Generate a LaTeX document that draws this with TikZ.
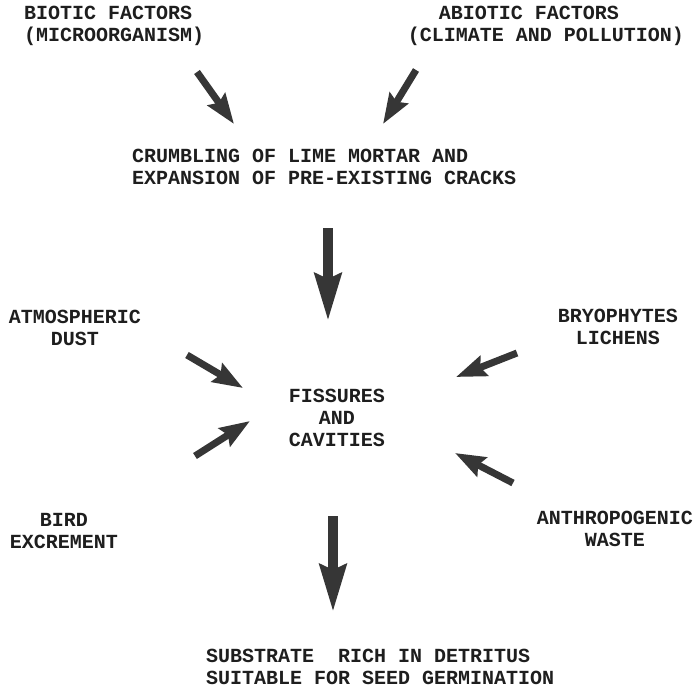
\documentclass[tikz,border=0pt]{standalone}
\usepackage{fontspec}
\setmainfont{Liberation Mono}
\usetikzlibrary{arrows.meta}
\definecolor{arrowgray}{HTML}{363636}
\definecolor{txt}{HTML}{1E1E1E}
\tikzset{
  lbl/.style={font=\bfseries\fontsize{20}{22}\selectfont, text=txt, inner sep=0pt},
  arr/.style={draw=arrowgray, line width=7pt, -{Stealth[length=30pt,width=21pt,inset=4pt,fill=arrowgray]}},
  bigarr/.style={draw=arrowgray, line width=10pt, -{Stealth[length=47pt,width=26pt,inset=5pt,fill=arrowgray]}}
}
\begin{document}
\begin{tikzpicture}[x=1pt,y=-1pt]
\useasboundingbox[fill=white] (0,0) rectangle (697,689);

\node[lbl, align=left, anchor=west] (biotic) at (24,26) {BIOTIC FACTORS\\(MICROORGANISM)};
\node[lbl, align=center] (abiotic) at (546,26) {ABIOTIC FACTORS\hspace*{34pt}\\(CLIMATE AND POLLUTION)};
\node[lbl, align=left, anchor=west] (crumb) at (132,167) {CRUMBLING OF LIME MORTAR AND\\EXPANSION OF PRE-EXISTING CRACKS};
\node[lbl, align=center] (dust) at (75,328) {ATMOSPHERIC\\DUST};
\node[lbl, align=center] (bryo) at (618,327) {BRYOPHYTES\\LICHENS};
\node[lbl, align=center] (fiss) at (337,418) {FISSURES\\AND\\CAVITIES};
\node[lbl, align=center] (bird) at (64,531) {BIRD\\EXCREMENT};
\node[lbl, align=center] (anthro) at (615,529) {ANTHROPOGENIC\\WASTE};
\node[lbl, align=left, anchor=west] (subst) at (206,667) {SUBSTRATE\ \ RICH IN DETRITUS\\SUITABLE FOR SEED GERMINATION};

\coordinate (a1s) at (197,72);  \coordinate (a1e) at (234,124);
\coordinate (a2s) at (416,70);  \coordinate (a2e) at (383,124);
\coordinate (a3s) at (328,228); \coordinate (a3e) at (328,321);
\coordinate (a4s) at (187,355); \coordinate (a4e) at (243,388);
\coordinate (a5s) at (195,456); \coordinate (a5e) at (250,421);
\coordinate (a6s) at (517,353); \coordinate (a6e) at (456,377);
\coordinate (a7s) at (513,483); \coordinate (a7e) at (455,453);
\coordinate (a8s) at (333,516); \coordinate (a8e) at (333,612);

\draw[arr] (a1s) -- (a1e);
\draw[arr] (a2s) -- (a2e);
\draw[bigarr] (a3s) -- (a3e);
\draw[arr] (a4s) -- (a4e);
\draw[arr] (a5s) -- (a5e);
\draw[arr] (a6s) -- (a6e);
\draw[arr] (a7s) -- (a7e);
\draw[bigarr] (a8s) -- (a8e);
\end{tikzpicture}
\end{document}
